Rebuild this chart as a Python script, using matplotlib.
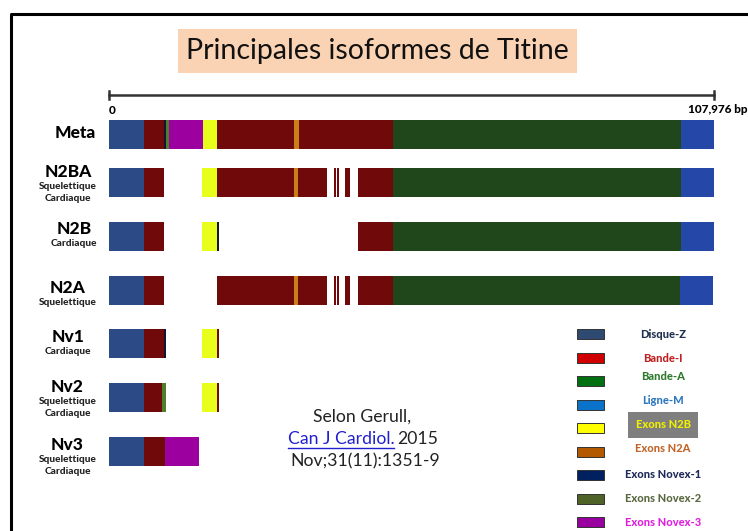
import matplotlib
matplotlib.use("Agg")
import matplotlib.pyplot as plt
import matplotlib.transforms as mtransforms
from matplotlib.patches import Rectangle

plt.rcParams['font.family'] = ['Lato', 'DejaVu Sans']

# titin length and isoform layout (bp)
total_bp = 107976
isoforms = ["Meta", "N2BA", "N2B", "N2A", "Nv1", "Nv2", "Nv3"]
tissues = ["", "Squelettique\nCardiaque", "Cardiaque", "Squelettique",
           "Cardiaque", "Squelettique\nCardiaque", "Squelettique\nCardiaque"]

# (start, end, region) for each isoform
meta = [(0, 6200, "Z"), (6200, 9800, "I"), (9800, 10200, "nv1"), (10200, 10700, "nv2"),
        (10700, 16800, "nv3"), (16800, 19300, "N2B"), (19300, 33000, "I"), (33000, 33900, "N2A"),
        (33900, 50700, "I"), (50700, 102100, "A"), (102100, 107976, "M")]
n2ba = [(0, 6200, "Z"), (6200, 9800, "I"), (16600, 19300, "N2B"), (19300, 33000, "I"),
        (33000, 33800, "N2A"), (33800, 38900, "I"), (40200, 40500, "I"), (40700, 41000, "I"),
        (42200, 43100, "I"), (44400, 50700, "I"), (50700, 102100, "A"), (102100, 107976, "M")]
n2b = [(0, 6200, "Z"), (6200, 9800, "I"), (16600, 19300, "N2B"), (19300, 19600, "nv1"),
       (44400, 50700, "I"), (50700, 102100, "A"), (102100, 107976, "M")]
n2a = [(0, 6200, "Z"), (6200, 9800, "I"), (19300, 33000, "I"), (33000, 33800, "N2A"),
       (33800, 38900, "I"), (40200, 40500, "I"), (40700, 41000, "I"), (42200, 43100, "I"),
       (44400, 50600, "I"), (50600, 101900, "A"), (101900, 107800, "M")]
nv1 = [(0, 6200, "Z"), (6200, 9800, "I"), (9800, 10100, "nv1"), (16600, 19300, "N2B"),
       (19300, 19600, "I")]
nv2 = [(0, 6200, "Z"), (6200, 9500, "I"), (9500, 10100, "nv2"), (16600, 19300, "N2B"),
       (19300, 19600, "I")]
nv3 = [(0, 6200, "Z"), (6200, 10000, "I"), (10000, 16100, "nv3")]
segments = [meta, n2ba, n2b, n2a, nv1, nv2, nv3]

bar_colors = {"Z": "#2C4A86", "I": "#700909", "A": "#20461C", "M": "#2447A8",
              "N2B": "#E8FF1C", "N2A": "#C98018", "nv1": "#141430", "nv2": "#4E7E2A",
              "nv3": "#9C009E"}

legend_labels = ["Disque-Z", "Bande-I", "Bande-A", "Ligne-M", "Exons N2B", "Exons N2A",
                 "Exons Novex-1", "Exons Novex-2", "Exons Novex-3"]
legend_patch = ["#2E4A70", "#D00000", "#007010", "#0A72C8", "#FFFF00", "#B35A00",
                "#002060", "#4F6228", "#9900A0"]
legend_text = ["#1F3050", "#C02020", "#2E7A2E", "#2E78C0", "#F0F000", "#C0662A",
               "#1F2A5A", "#5A6840", "#E020E0"]

W, H = 748, 531
fig = plt.figure(figsize=(W / 100, H / 100), dpi=100)
ax = fig.add_axes([0, 0, 1, 1])
x0, x1 = 109, 714  # pixel span of the scale bar
bp_px = total_bp / (x1 - x0)
ax.set_xlim(-x0 * bp_px, (W - x0) * bp_px)
ax.set_ylim(H, 0)
ax.axis('off')

# pixel coordinate transform for annotations
px = mtransforms.Affine2D().scale(1 / W, -1 / H).translate(0, 1) + fig.transFigure

# frame
ax.plot([11, 11, W], [H, 14, 14], color="black", lw=2.2, transform=px, clip_on=False)

# title
fig.text(377.5 / W, 1 - 51 / H, "Principales isoformes de Titine", fontsize=20.5,
         ha="center", va="center", color="#111111")
ax.add_patch(Rectangle((178, 29), 399, 44, facecolor="#FAD3B4", edgecolor="none",
                       transform=px, zorder=0))

# scale bar
ax.plot([0, total_bp], [95, 95], color="#333333", lw=1.8)
for xe in (0, total_bp):
    ax.plot([xe, xe], [91, 99], color="#333333", lw=1.8)
ax.text(0, 110, "0", fontsize=8.5, fontweight="black", ha="left", va="center")
fig.text(748 / W, 1 - 110 / H, "107,976 bp", fontsize=8.5, fontweight="black",
         ha="right", va="center")

# isoform bars
row_y = [134, 182, 236.5, 290, 343.5, 397, 451]
for yc, segs in zip(row_y, segments):
    for s, e, r in segs:
        ax.barh(yc, e - s, left=s, height=29, color=bar_colors[r], edgecolor="none")

# isoform names
name_x = [75, 68, 74, 67.5, 68, 67.5, 67.5]
name_y = [133, 172, 229, 288, 337, 387, 445]
for nm, tis, lx, ly in zip(isoforms, tissues, name_x, name_y):
    fig.text(lx / W, 1 - ly / H, nm, fontsize=12.5, fontweight="black", ha="center", va="center")
    if tis:
        fig.text(lx / W, 1 - (ly + 10) / H, tis, fontsize=7.3, fontweight="black",
                 ha="center", va="top", linespacing=1.4, color="#222222")

# citation
fig.text(362 / W, 1 - 417 / H, "Selon Gerull,", fontsize=12.7, ha="center", va="center",
         color="#222222")
fig.text(288 / W, 1 - 439 / H, "Can J Cardiol.", fontsize=12.7, ha="left", va="center",
         color="#2020D0")
fig.text(397 / W, 1 - 439 / H, "2015", fontsize=12.7, ha="left", va="center", color="#222222")
ax.plot([288, 394], [448, 448], color="#2020D0", lw=1, transform=px)
fig.text(365 / W, 1 - 461 / H, "Nov;31(11):1351-9", fontsize=12.7, ha="center", va="center",
         color="#222222")

# legend
patch_y = [334, 358, 381, 405, 428, 452, 475, 499, 522]
text_y = [334, 358, 377, 401, 425, 449, 474, 498, 523]
for lab, pc, tc, py, ty in zip(legend_labels, legend_patch, legend_text, patch_y, text_y):
    ax.add_patch(Rectangle((577, py - 5), 27, 10, facecolor=pc, edgecolor="#333333",
                           lw=0.7, transform=px))
    kw = {}
    if lab == "Exons N2B":
        kw["bbox"] = dict(boxstyle="square,pad=0.65", facecolor="#7F7F7F", edgecolor="none")
    fig.text(663 / W, 1 - ty / H, lab, fontsize=8, fontweight="black", ha="center",
             va="center", color=tc, **kw)

fig.savefig("out.png", dpi=100)
